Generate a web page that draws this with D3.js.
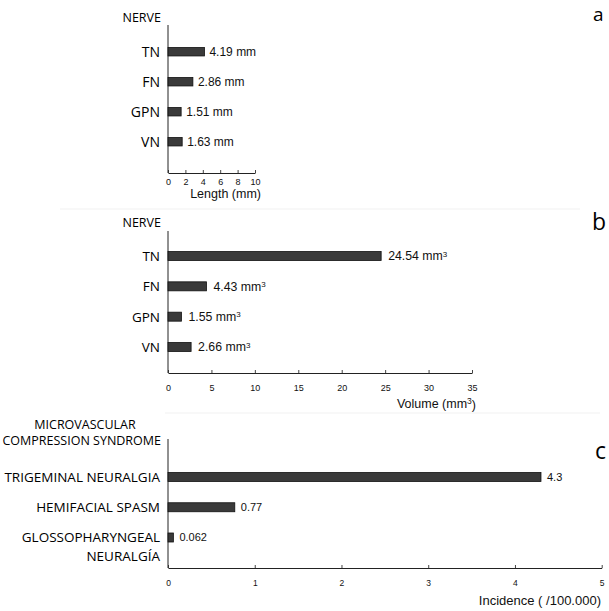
<!DOCTYPE html>
<html>
<head>
<meta charset="utf-8">
<script src="https://cdn.jsdelivr.net/npm/d3@7"></script>
<style>
  body { margin: 0; background: #fff; }
  svg { display: block; }
  .cat { font-family: "Open Sans", sans-serif; fill: #000; }
  .num { font-family: "Liberation Sans", Arial, sans-serif; fill: #111; }
  .tick text { font-family: "Liberation Sans", Arial, sans-serif; fill: #111; }
</style>
</head>
<body>
<div id="chart"></div>
<script>
// ---- data ----
const nerves = ["TN", "FN", "GPN", "VN"];
const lengthValues = [4.19, 2.86, 1.51, 1.63];
const lengthLabels = ["4.19 mm", "2.86 mm", "1.51 mm", "1.63 mm"];
const lengthTicks = [0, 2, 4, 6, 8, 10];

const volumeValues = [24.54, 4.43, 1.55, 2.66];
const volumeLabels = ["24.54 mm", "4.43 mm", "1.55 mm", "2.66 mm"];
const volumeTicks = [0, 5, 10, 15, 20, 25, 30, 35];

const syndromes = ["TRIGEMINAL NEURALGIA", "HEMIFACIAL SPASM", "GLOSSOPHARYNGEAL|NEURALGÍA"];
const incidenceValues = [4.3, 0.77, 0.062];
const incidenceLabels = ["4.3", "0.77", "0.062"];
const incidenceTicks = [0, 1, 2, 3, 4, 5];

const width = 609, height = 611;

const svg = d3.select("#chart").append("svg")
    .attr("width", width)
    .attr("height", height);

// faint panel borders (scan artefacts in the original)
svg.append("line").attr("x1", 60).attr("x2", 580).attr("y1", 209).attr("y2", 209)
    .attr("stroke", "#f1f1f1");
svg.append("line").attr("x1", 165).attr("x2", 600).attr("y1", 413).attr("y2", 413)
    .attr("stroke", "#f1f1f1");

function drawPanel(p) {
    let g = svg.append("g");

    let x = d3.scaleLinear()
        .domain([p.ticks[0], p.ticks[p.ticks.length - 1]])
        .range([p.x0, p.x1]);

    let y = d3.scalePoint()
        .domain(p.cats)
        .range([p.yFirst, p.yLast]);

    // x axis, ticks pointing up
    let xAxis = d3.axisBottom(x)
        .tickValues(p.ticks)
        .tickFormat(d3.format("d"))
        .tickSize(-3)
        .tickSizeOuter(0)
        .tickPadding(p.tickPad);

    let ax = g.append("g")
        .attr("transform", `translate(0, ${p.yAxis})`)
        .call(xAxis);
    ax.select(".domain").attr("stroke", "#222");
    ax.selectAll(".tick line").attr("stroke", "#444");
    ax.selectAll(".tick text").style("font-size", p.tickFont + "px");

    // y axis line
    g.append("line")
        .attr("x1", x(0)).attr("x2", x(0))
        .attr("y1", p.yTop).attr("y2", p.yAxis)
        .attr("stroke", "#222");

    // bars
    g.selectAll(".bar")
        .data(p.values)
        .enter()
        .append("rect")
        .attr("class", "bar")
        .attr("x", x(0))
        .attr("y", (d, i) => y(p.cats[i]) - p.barH / 2)
        .attr("width", d => x(d) - x(0))
        .attr("height", p.barH)
        .attr("fill", "#3a3a3a")
        .attr("stroke", "#111")
        .attr("stroke-width", 0.8);

    // value labels
    let vl = g.selectAll(".val")
        .data(p.values)
        .enter()
        .append("text")
        .attr("class", "num val")
        .attr("x", d => x(d) + p.gap)
        .attr("y", (d, i) => y(p.cats[i]))
        .attr("dy", "0.35em")
        .style("font-size", p.valFont + "px")
        .text((d, i) => p.labels[i]);
    if (p.sup) {
        vl.append("tspan")
            .attr("dy", "-0.45em")
            .style("font-size", "8px")
            .text("3");
    }

    // category labels
    g.selectAll(".cat-label")
        .data(p.cats)
        .enter()
        .append("text")
        .attr("class", "cat")
        .attr("text-anchor", "end")
        .attr("x", 160)
        .attr("y", d => y(d))
        .style("font-size", p.catFont + "px")
        .each(function(d) {
            let parts = d.split("|");
            let t = d3.select(this);
            parts.forEach((s, k) => {
                t.append("tspan")
                    .attr("x", 160)
                    .attr("dy", k === 0 ? "0.36em" : "1.35em")
                    .text(s);
            });
        });

    // header
    p.header.forEach((s, k) => {
        g.append("text")
            .attr("class", "cat head")
            .attr("text-anchor", "end")
            .attr("x", p.headerX)
            .attr("y", p.headerY + k * 16.5)
            .style("font-size", p.headFont + "px")
            .text(s);
    });

    // x axis title
    let title = g.append("text")
        .attr("class", "num")
        .attr("text-anchor", "end")
        .attr("x", p.titleX)
        .attr("y", p.titleY)
        .style("font-size", p.titleFont + "px")
        .text(p.title);
    if (p.titleSup) {
        title.append("tspan").attr("dy", "-0.45em").style("font-size", "8.5px").text("3");
        title.append("tspan").attr("dy", "0.45em").text(")");
    }

    // panel letter
    g.append("text")
        .attr("class", "cat")
        .attr("x", p.letterX)
        .attr("y", p.letterY)
        .style("font-size", p.letterFont + "px")
        .text(p.letter);
}

drawPanel({
    cats: nerves, values: lengthValues, labels: lengthLabels, ticks: lengthTicks,
    x0: 168, x1: 255, yFirst: 51.7, yLast: 141.7, yTop: 25, yAxis: 173,
    barH: 8.5, gap: 5, valFont: 12, catFont: 14, tickFont: 9, tickPad: 6,
    header: ["NERVE"], headerX: 161, headerY: 21.5, headFont: 12.5,
    title: "Length (mm)", titleX: 261, titleY: 197.5, titleFont: 12.5,
    letter: "a", letterX: 593, letterY: 21, letterFont: 19
});

drawPanel({
    cats: nerves, values: volumeValues, labels: volumeLabels, ticks: volumeTicks, sup: true,
    x0: 168, x1: 472, yFirst: 256, yLast: 347, yTop: 231, yAxis: 373,
    barH: 9, gap: 7, valFont: 12.3, catFont: 13.5, tickFont: 9, tickPad: 12,
    header: ["NERVE"], headerX: 161, headerY: 227, headFont: 12.5,
    title: "Volume (mm", titleSup: true, titleX: 476, titleY: 407.5, titleFont: 12.5,
    letter: "b", letterX: 592, letterY: 230, letterFont: 23
});

drawPanel({
    cats: syndromes, values: incidenceValues, labels: incidenceLabels, ticks: incidenceTicks,
    x0: 168, x1: 601.7, yFirst: 477, yLast: 537.5, yTop: 439, yAxis: 568,
    barH: 9, gap: 6, valFont: 11, catFont: 13.5, tickFont: 8.5, tickPad: 12,
    header: ["MICROVASCULAR", "COMPRESSION SYNDROME"], headerX: 161, headerY: 428.5, headFont: 12.5,
    title: "Incidence ( /100.000)", titleX: 601, titleY: 605, titleFont: 13,
    letter: "c", letterX: 595, letterY: 459, letterFont: 23
});

// first header line of panel c is centred over the second one
svg.selectAll("text.head")
    .filter(function() { return this.textContent === "MICROVASCULAR"; })
    .attr("text-anchor", "middle")
    .attr("x", 85);
</script>
</body>
</html>
